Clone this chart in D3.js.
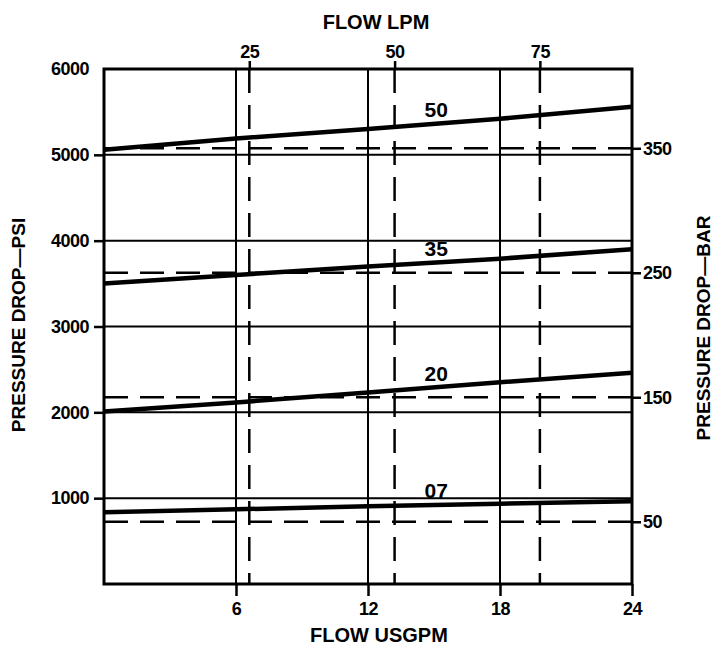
<!DOCTYPE html>
<html>
<head>
<meta charset="utf-8">
<script src="https://cdn.jsdelivr.net/npm/d3@7"></script>
<style>
  html, body { margin: 0; padding: 0; background: #fff; }
  svg { display: block; font-family: "Liberation Sans", Arial, sans-serif; }
  .axis text { font-size: 18px; font-weight: bold; fill: #000; letter-spacing: -0.5px; }
  .axis line { stroke: #000; stroke-width: 2.5; }
  .axis path { display: none; }
  .grid { stroke: #000; stroke-width: 2; }
  .dash { stroke: #000; stroke-width: 2.5; stroke-dasharray: 24 12; fill: none; }
  .curve { stroke: #000; stroke-width: 4.5; fill: none; stroke-linecap: butt; }
  .title { font-size: 20px; font-weight: bold; fill: #000; }
  .curve-label { font-size: 21px; font-weight: bold; fill: #000; }
</style>
</head>
<body>
<svg id="chart" width="713" height="645"></svg>
<script>
// flow (US gpm) at which the curves were read
const flowGpm = [0, 6, 12, 18, 24];
// pressure drop (psi) per size
const psi07 = [835, 870, 905, 935, 965];
const psi20 = [2010, 2115, 2230, 2350, 2460];
const psi35 = [3500, 3600, 3700, 3790, 3900];
const psi50 = [5060, 5190, 5300, 5420, 5560];
const curveNames = ['07', '20', '35', '50'];

// tick values
const gpmTicks = [6, 12, 18, 24];
const psiTicks = [1000, 2000, 3000, 4000, 5000, 6000];
const lpmTicks = [25, 50, 75];
const barTicks = [50, 150, 250, 350];

const LPM_PER_GPM = 3.78541;
const PSI_PER_BAR = 14.5038;

const W = 713, H = 645;
const margin = { top: 69, right: 81, bottom: 61, left: 104 };
const innerW = W - margin.left - margin.right;
const innerH = H - margin.top - margin.bottom;

const svg = d3.select('#chart');
const g = svg.append('g').attr('transform', `translate(${margin.left},${margin.top})`);

const x = d3.scaleLinear().domain([0, 24]).range([0, innerW]);
const xLpm = d3.scaleLinear().domain([0, 24 * LPM_PER_GPM]).range([0, innerW]);
const y = d3.scaleLinear().domain([0, 6000]).range([innerH, 0]);
const yBar = d3.scaleLinear().domain([0, 6000 / PSI_PER_BAR]).range([innerH, 0]);

// solid grid
g.selectAll('.grid-v')
  .data(gpmTicks.filter(d => d < 24))
  .enter().append('line')
  .attr('class', 'grid')
  .attr('x1', d => x(d)).attr('x2', d => x(d))
  .attr('y1', 0).attr('y2', innerH);

g.selectAll('.grid-h')
  .data(psiTicks.filter(d => d < 6000))
  .enter().append('line')
  .attr('class', 'grid')
  .attr('x1', 0).attr('x2', innerW)
  .attr('y1', d => y(d)).attr('y2', d => y(d));

// dashed metric grid
g.selectAll('.dash-v')
  .data(lpmTicks)
  .enter().append('line')
  .attr('class', 'dash')
  .attr('x1', d => xLpm(d)).attr('x2', d => xLpm(d))
  .attr('y1', 0).attr('y2', innerH);

g.selectAll('.dash-h')
  .data(barTicks)
  .enter().append('line')
  .attr('class', 'dash')
  .attr('x1', 0).attr('x2', innerW)
  .attr('y1', d => yBar(d)).attr('y2', d => yBar(d));

// axes
g.append('g')
  .attr('class', 'axis')
  .call(d3.axisLeft(y).tickValues(psiTicks).tickFormat(d3.format('d')).tickSize(10).tickPadding(5))
  .selectAll('.tick')
  .filter(d => d === 6000)
  .select('line').remove();

g.append('g')
  .attr('class', 'axis')
  .attr('transform', `translate(0,${innerH})`)
  .call(d3.axisBottom(x).tickValues(gpmTicks).tickSize(12).tickPadding(6));

g.append('g')
  .attr('class', 'axis')
  .call(d3.axisTop(xLpm).tickValues(lpmTicks).tickSize(8).tickPadding(3));

g.append('g')
  .attr('class', 'axis')
  .attr('transform', `translate(${innerW},0)`)
  .call(d3.axisRight(yBar).tickValues(barTicks).tickSize(9).tickPadding(2));

// frame
g.append('rect')
  .attr('width', innerW).attr('height', innerH)
  .attr('fill', 'none').attr('stroke', '#000').attr('stroke-width', 3);

// curves
const series = [psi07, psi20, psi35, psi50];
const line = d3.line()
  .x((d, i) => x(flowGpm[i]))
  .y(d => y(d));

g.selectAll('.curve')
  .data(series)
  .enter().append('path')
  .attr('class', 'curve')
  .attr('d', d => line(d));

// curve labels, sitting just above each curve
const labelGpm = 15.1;
series.forEach((s, i) => {
  const at = d3.scaleLinear().domain(flowGpm).range(s)(labelGpm);
  g.append('text')
    .attr('class', 'curve-label')
    .attr('x', x(labelGpm))
    .attr('y', y(at) - 14)
    .attr('dy', '0.35em')
    .attr('text-anchor', 'middle')
    .text(curveNames[i]);
});

// titles
svg.append('text')
  .attr('class', 'title')
  .attr('x', 376).attr('y', 29)
  .attr('text-anchor', 'middle')
  .text('FLOW LPM');

svg.append('text')
  .attr('class', 'title')
  .attr('x', 379).attr('y', 642)
  .attr('text-anchor', 'middle')
  .text('FLOW USGPM');

svg.append('text')
  .attr('class', 'title')
  .attr('transform', 'translate(25,325) rotate(-90)')
  .attr('text-anchor', 'middle')
  .style('font-size', '19px')
  .text('PRESSURE DROP—PSI');

svg.append('text')
  .attr('class', 'title')
  .attr('transform', 'translate(710,328) rotate(-90)')
  .attr('text-anchor', 'middle')
  .style('font-size', '19px')
  .text('PRESSURE DROP—BAR');
</script>
</body>
</html>
